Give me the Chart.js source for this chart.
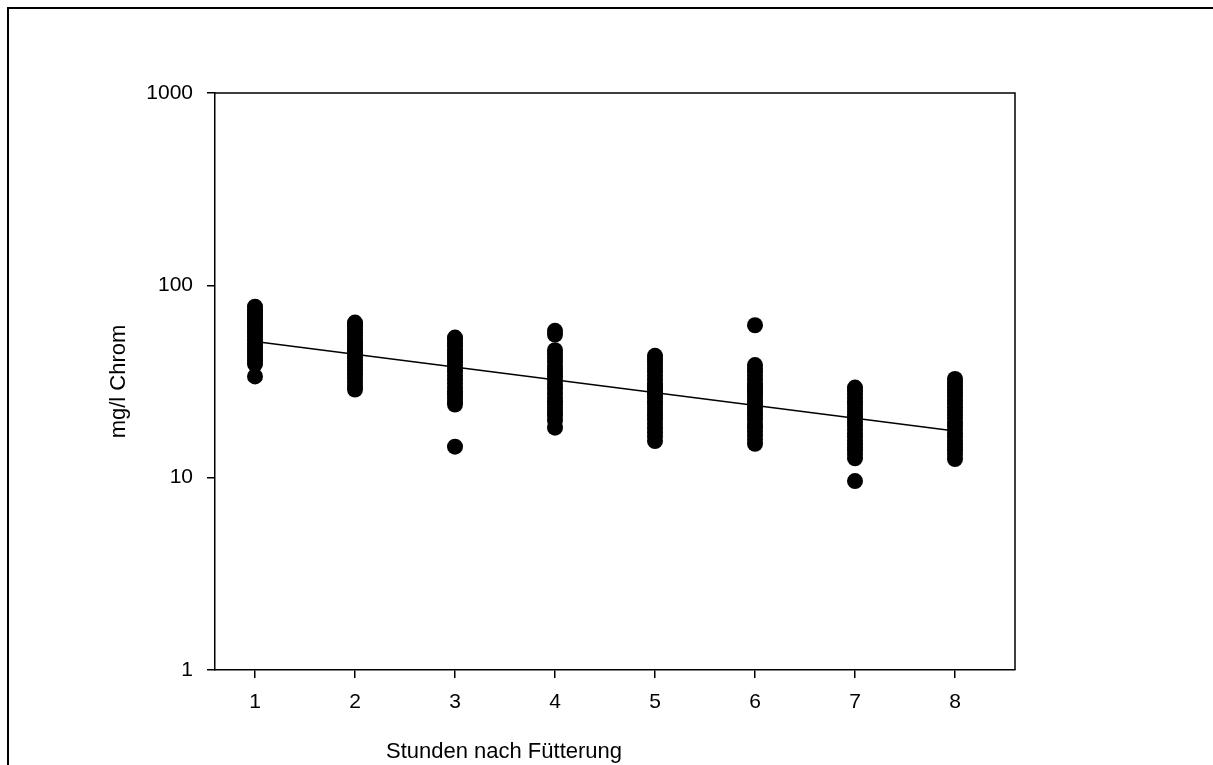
<!DOCTYPE html>
<html>
<head>
<meta charset="utf-8">
<script src="https://cdn.jsdelivr.net/npm/chart.js@4.4.1/dist/chart.umd.min.js"></script>
<style>
  body { margin: 0; background: #fff; }
  canvas { display: block; }
</style>
</head>
<body>
<canvas id="myChart" width="1213" height="765"></canvas>
<script>
// Stunden nach Fütterung (x) and measured chromium per hour (mg/l)
const hours = [1, 2, 3, 4, 5, 6, 7, 8];

const chrom1 = [77.4, 75, 72, 70, 68, 66, 64, 62, 60, 58, 56, 54, 52, 50, 48, 46.5, 45, 43.5, 42, 40.5, 39, 33.6];
const chrom2 = [64, 62.5, 61, 59, 57, 55, 53, 51, 49.5, 48, 46.5, 45, 43.5, 42, 40.5, 39, 37.5, 36, 34.5, 33, 31.5, 30, 28.7];
const chrom3 = [53.5, 52, 50, 48, 46, 44.5, 43, 41.5, 40, 38.5, 37, 35.5, 34, 32.5, 31, 29.5, 28, 27, 26, 25, 24, 14.5];
const chrom4 = [58, 55.5, 46, 44, 42, 40, 38, 36.5, 35, 33.5, 32, 30.5, 29, 27.5, 26, 25, 24, 23, 22, 21, 19.8, 18.2];
const chrom5 = [43, 41.5, 40, 38.5, 37, 35.5, 34, 32.5, 31, 30, 29, 28, 27, 26, 25, 24, 23, 22, 21, 20, 19, 18, 17.2, 16.4, 15.5];
const chrom6 = [62, 38.5, 37, 35.5, 34, 32.5, 31, 30, 29, 28, 27, 26, 25, 24, 23, 22, 21, 20, 19, 18.2, 17.4, 16.6, 15.8, 15];
const chrom7 = [29.4, 28.3, 27.2, 26, 25, 24, 23, 22, 21, 20.2, 19.4, 18.6, 17.8, 17, 16.3, 15.6, 15, 14.4, 13.8, 13.2, 12.6, 9.6];
const chrom8 = [32.6, 31.3, 30, 28.8, 27.6, 26.4, 25.3, 24.2, 23.2, 22.2, 21.2, 20.3, 19.4, 18.6, 17.8, 17, 16.3, 15.6, 15, 14.4, 13.8, 13.2, 12.5];

// exponential regression line (straight on the log axis)
const fitX = [1, 8];
const fitY = [51, 17.5];

const yTicks = [1, 10, 100, 1000];
const xTicks = [1, 2, 3, 4, 5, 6, 7, 8];

const xTitle = 'Stunden nach Fütterung';
const yTitle = 'mg/l Chrom';

const allChrom = [chrom1, chrom2, chrom3, chrom4, chrom5, chrom6, chrom7, chrom8];

const points = [];
allChrom.forEach(function (vals, i) {
  vals.forEach(function (v) {
    points.push({ x: hours[i], y: v });
  });
});

const fitLine = fitX.map(function (x, i) { return { x: x, y: fitY[i] }; });

const FONT = 'Liberation Sans, Arial, sans-serif';

const framePlugin = {
  id: 'frame',
  beforeDraw(chart) {
    const ctx = chart.ctx;
    ctx.save();
    ctx.fillStyle = '#fff';
    ctx.fillRect(0, 0, chart.width, chart.height);
    // outer page frame (left and top)
    ctx.strokeStyle = '#000';
    ctx.lineWidth = 2;
    ctx.beginPath();
    ctx.moveTo(8, chart.height);
    ctx.lineTo(8, 8);
    ctx.lineTo(chart.width, 8);
    ctx.stroke();
    ctx.restore();
  },
  afterDraw(chart) {
    const ctx = chart.ctx;
    const a = chart.chartArea;
    ctx.save();
    ctx.strokeStyle = '#000';
    ctx.lineWidth = 1.5;
    ctx.beginPath();
    ctx.moveTo(a.left, a.top);
    ctx.lineTo(a.right, a.top);
    ctx.lineTo(a.right, a.bottom);
    ctx.stroke();

    ctx.fillStyle = '#000';
    ctx.font = '22px ' + FONT;
    ctx.textAlign = 'center';
    ctx.textBaseline = 'alphabetic';
    ctx.fillText(xTitle, 504, 758);

    ctx.translate(119, (a.top + a.bottom) / 2);
    ctx.rotate(-Math.PI / 2);
    ctx.textBaseline = 'middle';
    ctx.fillText(yTitle, 0, 0);
    ctx.restore();
  }
};

const config = {
  type: 'scatter',
  data: {
    datasets: [{
      label: 'Chrom',
      data: points,
      backgroundColor: '#000',
      borderWidth: 0,
      pointRadius: 8,
      pointHoverRadius: 8
    }, {
      type: 'line',
      label: 'Regression',
      data: fitLine,
      borderColor: '#000',
      borderWidth: 1.5,
      pointRadius: 0,
      fill: false
    }]
  },
  options: {
    responsive: false,
    animation: false,
    devicePixelRatio: 1,
    layout: { padding: { top: 93, right: 198, left: 0, bottom: 0 } },
    plugins: {
      legend: { display: false },
      tooltip: { enabled: false }
    },
    scales: {
      x: {
        type: 'linear',
        min: 0.6,
        max: 8.6,
        afterBuildTicks: function (scale) {
          scale.ticks = xTicks.map(function (v) { return { value: v }; });
        },
        afterFit: function (scale) { scale.height = 95; },
        grid: { drawOnChartArea: false, drawTicks: true, tickLength: 8, color: '#000', lineWidth: 1.5 },
        border: { display: true, color: '#000', width: 1.5 },
        ticks: {
          color: '#000',
          padding: 12,
          maxRotation: 0,
          font: { family: FONT, size: 21 },
          callback: function (v) { return String(v); }
        }
      },
      y: {
        type: 'logarithmic',
        min: 1,
        max: 1000,
        afterBuildTicks: function (scale) {
          scale.ticks = yTicks.map(function (v) { return { value: v }; });
        },
        afterFit: function (scale) { scale.width = 215; },
        grid: { drawOnChartArea: false, drawTicks: true, tickLength: 8, color: '#000', lineWidth: 1.5 },
        border: { display: true, color: '#000', width: 1.5 },
        ticks: {
          color: '#000',
          padding: 14,
          font: { family: FONT, size: 21 },
          callback: function (v) { return String(v); }
        }
      }
    }
  },
  plugins: [framePlugin]
};

const myChart = new Chart(document.getElementById('myChart'), config);
</script>
</body>
</html>
